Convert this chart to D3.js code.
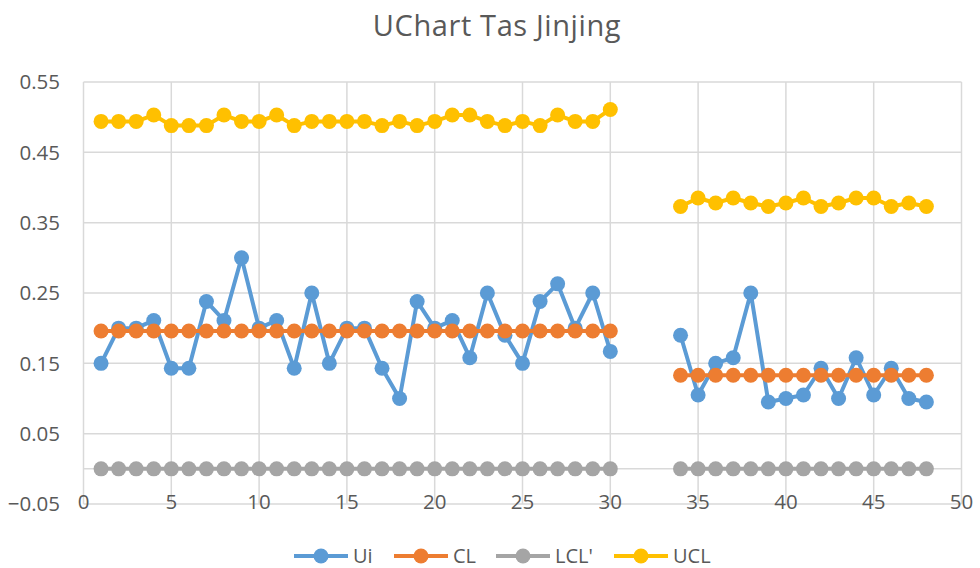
<!DOCTYPE html>
<html>
<head>
<meta charset="utf-8">
<script src="https://cdnjs.cloudflare.com/ajax/libs/d3/7.8.5/d3.min.js"></script>
<style>
  body { margin: 0; background: #fff; }
  text { font-family: "Open Sans", "Noto Sans", sans-serif; fill: #595959; }
</style>
</head>
<body>
<div id="chart"></div>
<script>
var samples = [1, 2, 3, 4, 5, 6, 7, 8, 9, 10, 11, 12, 13, 14, 15, 16, 17, 18, 19, 20,
  21, 22, 23, 24, 25, 26, 27, 28, 29, 30, 31, 32, 33, 34, 35, 36, 37, 38, 39, 40,
  41, 42, 43, 44, 45, 46, 47, 48];

// blank rows 31-33 split the chart in two parts
var ui = [0.15, 0.2, 0.2, 0.211, 0.143, 0.143, 0.238, 0.211, 0.3, 0.2,
  0.211, 0.143, 0.25, 0.15, 0.2, 0.2, 0.143, 0.1, 0.238, 0.2,
  0.211, 0.158, 0.25, 0.19, 0.15, 0.238, 0.263, 0.2, 0.25, 0.167,
  null, null, null,
  0.19, 0.105, 0.15, 0.158, 0.25, 0.095, 0.1, 0.105, 0.143, 0.1,
  0.158, 0.105, 0.143, 0.1, 0.095];

var cl = [0.196, 0.196, 0.196, 0.196, 0.196, 0.196, 0.196, 0.196, 0.196, 0.196,
  0.196, 0.196, 0.196, 0.196, 0.196, 0.196, 0.196, 0.196, 0.196, 0.196,
  0.196, 0.196, 0.196, 0.196, 0.196, 0.196, 0.196, 0.196, 0.196, 0.196,
  null, null, null,
  0.133, 0.133, 0.133, 0.133, 0.133, 0.133, 0.133, 0.133, 0.133, 0.133,
  0.133, 0.133, 0.133, 0.133, 0.133];

var lcl = [0, 0, 0, 0, 0, 0, 0, 0, 0, 0, 0, 0, 0, 0, 0, 0, 0, 0, 0, 0,
  0, 0, 0, 0, 0, 0, 0, 0, 0, 0,
  null, null, null,
  0, 0, 0, 0, 0, 0, 0, 0, 0, 0, 0, 0, 0, 0, 0];

var ucl = [0.494, 0.494, 0.494, 0.503, 0.488, 0.488, 0.488, 0.503, 0.494, 0.494,
  0.503, 0.488, 0.494, 0.494, 0.494, 0.494, 0.488, 0.494, 0.488, 0.494,
  0.503, 0.503, 0.494, 0.488, 0.494, 0.488, 0.503, 0.494, 0.494, 0.511,
  null, null, null,
  0.373, 0.385, 0.378, 0.385, 0.378, 0.373, 0.378, 0.385, 0.373, 0.378,
  0.385, 0.385, 0.373, 0.378, 0.373];

var xTicks = [0, 5, 10, 15, 20, 25, 30, 35, 40, 45, 50];
var yTicks = [-0.05, 0.05, 0.15, 0.25, 0.35, 0.45, 0.55];

var seriesNames = ['Ui', 'CL', "LCL'", 'UCL'];
var seriesColors = ['#5b9bd5', '#ed7d31', '#a5a5a5', '#ffc000'];

var width = 980,
    height = 568;

var plot = { left: 83.5, right: 961.5, top: 82, bottom: 504 };

var xScale = d3.scaleLinear()
    .domain([0, 50])
    .range([plot.left, plot.right]);

var yScale = d3.scaleLinear()
    .domain([-0.05, 0.55])
    .range([plot.bottom, plot.top]);

var svg = d3.select('#chart').append('svg')
    .attr('width', width)
    .attr('height', height);

svg.append('text')
    .attr('x', 497)
    .attr('y', 36)
    .attr('text-anchor', 'middle')
    .style('font-size', '29px')
    .style('letter-spacing', '0.6px')
    .text('UChart Tas Jinjing');

// gridlines
svg.append('g')
    .selectAll('line').data(yTicks)
    .enter().append('line')
        .attr('x1', plot.left)
        .attr('x2', plot.right)
        .attr('y1', function(d) { return yScale(d); })
        .attr('y2', function(d) { return yScale(d); })
        .style('stroke', '#d9d9d9')
        .style('stroke-width', 1.5);

svg.append('g')
    .selectAll('line').data(xTicks)
    .enter().append('line')
        .attr('x1', function(d) { return xScale(d); })
        .attr('x2', function(d) { return xScale(d); })
        .attr('y1', plot.top)
        .attr('y2', plot.bottom)
        .style('stroke', '#d9d9d9')
        .style('stroke-width', 1.5);

// horizontal axis line sits at zero
svg.append('line')
    .attr('x1', plot.left)
    .attr('x2', plot.right)
    .attr('y1', yScale(0))
    .attr('y2', yScale(0))
    .style('stroke', '#d9d9d9')
    .style('stroke-width', 1.5);

svg.append('g')
    .selectAll('text').data(yTicks)
    .enter().append('text')
        .attr('x', 60)
        .attr('y', function(d) { return yScale(d); })
        .attr('dy', '0.35em')
        .attr('text-anchor', 'end')
        .style('font-size', '20.5px')
        .text(function(d) { return d3.format('.2f')(d); });

svg.append('g')
    .selectAll('text').data(xTicks)
    .enter().append('text')
        .attr('x', function(d) { return xScale(d); })
        .attr('y', 502)
        .attr('dy', '0.35em')
        .attr('text-anchor', 'middle')
        .style('font-size', '20.5px')
        .text(function(d) { return d; });

var allSeries = [ui, cl, lcl, ucl];

var line = d3.line()
    .defined(function(d) { return d != null; })
    .x(function(d, i) { return xScale(samples[i]); })
    .y(function(d) { return yScale(d); });

allSeries.forEach(function(values, s) {
  var g = svg.append('g');
  g.append('path')
      .datum(values)
      .attr('d', line)
      .style('fill', 'none')
      .style('stroke', seriesColors[s])
      .style('stroke-width', 4)
      .style('stroke-linejoin', 'round');

  g.selectAll('circle')
      .data(values.map(function(v, i) { return { x: samples[i], y: v }; })
        .filter(function(d) { return d.y != null; }))
      .enter().append('circle')
        .attr('cx', function(d) { return xScale(d.x); })
        .attr('cy', function(d) { return yScale(d.y); })
        .attr('r', 7.5)
        .style('fill', seriesColors[s]);
});

// legend
var legendX = [294, 394, 496, 614];
var legend = svg.append('g')
    .selectAll('g').data(seriesNames)
    .enter().append('g')
        .attr('transform', function(d, i) {
            return 'translate(' + legendX[i] + ',556)';
        });

legend.append('line')
    .attr('x1', 0)
    .attr('x2', 54)
    .style('stroke', function(d, i) { return seriesColors[i]; })
    .style('stroke-width', 4);

legend.append('circle')
    .attr('cx', 27)
    .attr('r', 7.5)
    .style('fill', function(d, i) { return seriesColors[i]; });

legend.append('text')
    .attr('x', 59)
    .attr('dy', '0.35em')
    .style('font-size', '20px')
    .text(function(d) { return d; });
</script>
</body>
</html>
